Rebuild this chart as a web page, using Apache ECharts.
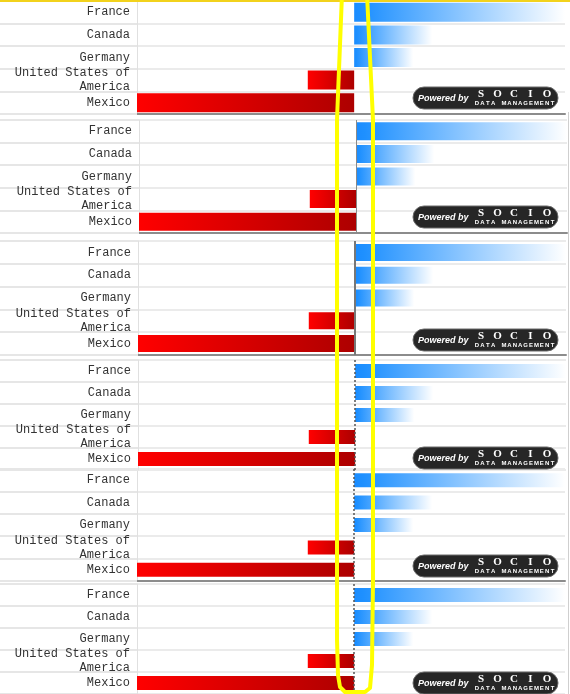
<!DOCTYPE html>
<html><head><meta charset="utf-8">
<script src="https://cdn.jsdelivr.net/npm/echarts@6/dist/echarts.min.js"></script>
<style>html,body{margin:0;padding:0;background:#fff}#c{width:570px;height:694px}</style>
</head><body><div id="c"></div>
<script>
// ---- data ----
const countries = ['France', 'Canada', 'Germany', 'United States of America', 'Mexico'];
const values = [100, 37, 28, -22, -103];
const badgeBrand = 'SOCIO';
const badgeSub = 'DATA MANAGEMENT';

// ---- layout / style (not data) ----
const dashed = {type: [2, 2], width: 1.5, color: '#555'};
const panels = [
  {top: 1,   height: 113, left: 137, right: 5, barWidth: 19, zero: null, base: true,  badge: 98},
  {top: 120, height: 113, left: 139, right: 3, barWidth: 18, zero: {type: 'solid', width: 1, color: '#8a8a8a'}, base: true, badge: 217},
  {top: 241, height: 114, left: 138, right: 4, barWidth: 17, zero: {type: 'solid', width: 2, color: '#777'}, base: true, badge: 340},
  {top: 360, height: 110, left: 138, right: 4, barWidth: 14, zero: dashed, base: false, badge: 458},
  {top: 469, height: 112, left: 137, right: 5, barWidth: 14, zero: dashed, base: true,  badge: 566},
  {top: 584, height: 112, left: 137, right: 5, barWidth: 14, zero: dashed, base: false, badge: 683}
];

const blue = new echarts.graphic.LinearGradient(0, 0, 1, 0, [
  {offset: 0, color: '#1a8cff'}, {offset: 0.04, color: '#1e90ff'}, {offset: 1, color: '#ffffff'}
]);
const red = new echarts.graphic.LinearGradient(0, 0, 1, 0, [
  {offset: 0, color: '#ff0000'}, {offset: 1, color: '#ad0000'}
]);

const chart = echarts.init(document.getElementById('c'), null, {renderer: 'canvas'});

const grid = [], xAxis = [], yAxis = [], series = [], graphic = [];
const vmin = Math.min(...values), vmax = Math.max(...values);

panels.forEach((p, i) => {
  grid.push({top: p.top, height: p.height, left: p.left, right: p.right, containLabel: false});
  xAxis.push({
    gridIndex: i, type: 'value', min: vmin, max: vmax,
    axisLabel: {show: false}, axisTick: {show: false}, splitLine: {show: false},
    axisLine: {show: p.base, onZero: false, lineStyle: {color: '#8c8c8c', width: 2}}
  });
  yAxis.push({
    gridIndex: i, type: 'category', inverse: true, data: countries,
    axisLine: {show: true, onZero: false, lineStyle: {color: '#e0e0e0', width: 1}},
    axisTick: {show: true, length: p.left, lineStyle: {color: '#e6e6e6', width: 2}},
    splitLine: {show: true, lineStyle: {color: '#ebebeb', width: 2}},
    axisLabel: {margin: 7, fontFamily: '"Liberation Mono", monospace', fontSize: 12, color: '#333',
      lineHeight: 14, width: 122, overflow: 'break', align: 'right'}
  });
  const s = {
    type: 'bar', xAxisIndex: i, yAxisIndex: i, data: values, barWidth: p.barWidth,
    itemStyle: {color: (d) => d.value < 0 ? red : blue},
    silent: true
  };
  if (p.zero) {
    s.markLine = {silent: true, symbol: 'none', label: {show: false}, animation: false,
      lineStyle: p.zero, data: [{xAxis: 0}]};
  }
  series.push(s);

  // badge
  const cy = p.badge;
  graphic.push({type: 'rect', z: 50, shape: {x: 413, y: cy - 11, width: 145, height: 22, r: 11},
    style: {fill: '#262626', stroke: '#6a6a6a', lineWidth: 1}});
  graphic.push({type: 'text', z: 51, x: 418, y: cy + 1,
    style: {text: 'Powered by', fill: '#fff', font: 'italic bold 9px "Liberation Sans", Arial', align: 'left', verticalAlign: 'middle'}});
  badgeBrand.split('').forEach((ch, k) => {
    graphic.push({type: 'text', z: 51, x: 481 + k * 16.5, y: cy - 4,
      style: {text: ch, fill: '#fff', font: 'bold 11px "Liberation Serif", serif', align: 'center', verticalAlign: 'middle'}});
  });
  badgeSub.split('').forEach((ch, k) => {
    graphic.push({type: 'text', z: 51, x: 477 + k * 5.4, y: cy + 5,
      style: {text: ch, fill: '#fff', font: 'bold 6px "Liberation Sans", Arial', align: 'center', verticalAlign: 'middle'}});
  });
});

// frame decorations
graphic.push({type: 'line', z: 40, shape: {x1: 0, y1: 1, x2: 570, y2: 1}, style: {stroke: '#f2d21c', lineWidth: 2}});
graphic.push({type: 'line', z: 40, shape: {x1: 568.5, y1: 112, x2: 568.5, y2: 694}, style: {stroke: '#cfcfcf', lineWidth: 1}});
// yellow highlight annotation
graphic.push({type: 'polyline', z: 100,
  shape: {points: [[342, -6], [337, 120], [337, 640], [338, 675], [340, 687], [345, 692], [365, 692], [370, 688], [372, 665], [373, 580], [373, 120], [367, -6]]},
  style: {fill: null, stroke: '#ffff00', lineWidth: 4, lineJoin: 'round'}});

chart.setOption({
  animation: false,
  backgroundColor: '#fff',
  grid, xAxis, yAxis, series, graphic
});
</script>
</body></html>
